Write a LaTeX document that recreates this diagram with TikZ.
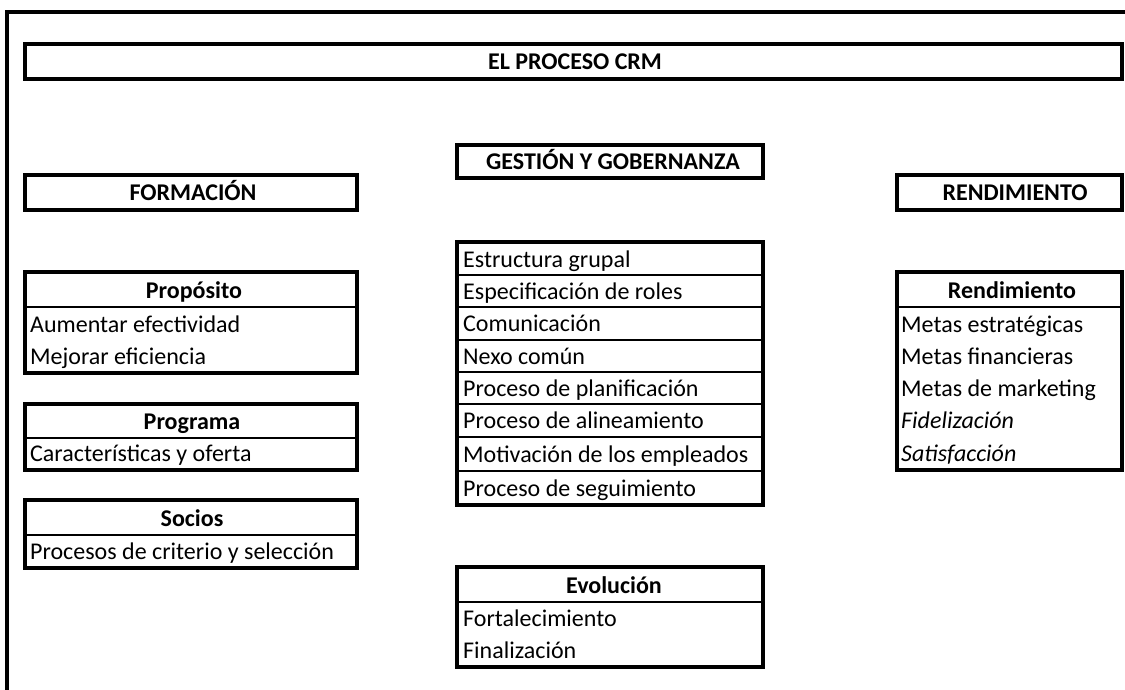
\documentclass[tikz,border=0pt]{standalone}
\usepackage{fontspec}
\setmainfont{Carlito}
\begin{document}
\begin{tikzpicture}[x=1pt,y=-1pt,
  box/.style={line width=3.5pt},
  sepline/.style={line width=1.4pt},
  thicksep/.style={line width=2.8pt},
  txt/.style={anchor=west, inner sep=0pt, yshift=-2.5pt, font=\fontsize{24}{28}\selectfont, text height=16pt, text depth=5pt},
  itxt/.style={txt, font=\fontsize{24}{28}\selectfont\itshape},
  hd/.style={anchor=center, inner sep=0pt, yshift=-2pt, font=\fontsize{24}{28}\selectfont\bfseries, text height=16pt, text depth=5pt},
  bighd/.style={hd}]
\useasboundingbox (0,0) rectangle (1125,690);
\fill[white] (0,0) rectangle (1125,690);
% outer frame
\draw[line width=4pt] (7,700) -- (7,12) -- (1135,12);
% title
\draw[box] (25,44) rectangle (1122,79);
\node[bighd] (crm) at (575,62) {EL PROCESO CRM};
% column headers
\draw[box] (25,175) rectangle (357,210);
\node[bighd] (formacion) at (193,193) {FORMACIÓN};
\draw[box] (457,145) rectangle (763,178);
\node[bighd] (gestion) at (613,162) {GESTIÓN Y GOBERNANZA};
\draw[box] (897,175) rectangle (1122,210);
\node[bighd] (rendT) at (1015,193) {RENDIMIENTO};
% Proposito
\draw[box] (25,272) rectangle (357,373);
\draw[sepline] (25,307) -- (357,307);
\node[hd] (prop) at (194,291) {Propósito};
\node[txt] (prop1) at (30,324) {Aumentar efectividad};
\node[txt] (prop2) at (30,356) {Mejorar eficiencia};
% Programa
\draw[box] (25,404) rectangle (357,470);
\draw[sepline] (25,438) -- (357,438);
\node[hd] (prog) at (192,422) {Programa};
\node[txt] (prog1) at (30,453) {Características y oferta};
% Socios
\draw[box] (25,500) rectangle (357,568);
\draw[sepline] (25,535) -- (357,535);
\node[hd] (soc) at (192,519) {Socios};
\node[txt] (soc1) at (30,551) {Procesos de criterio y selección};
% Gestion list
\draw[box] (457,242) rectangle (763,505);
\foreach \yy in {275,307,340,372,404} \draw[sepline] (457,\yy) -- (763,\yy);
\draw[thicksep] (457,437) -- (763,437);
\draw[thicksep] (457,471) -- (763,471);
\node[txt] (g1) at (463,259) {Estructura grupal};
\node[txt] (g2) at (463,291) {Especificación de roles};
\node[txt] (g3) at (463,323.5) {Comunicación};
\node[txt] (g4) at (463,356) {Nexo común};
\node[txt] (g5) at (463,388) {Proceso de planificación};
\node[txt] (g6) at (463,420.5) {Proceso de alineamiento};
\node[txt] (g7) at (463,454) {Motivación de los empleados};
\node[txt] (g8) at (463,488) {Proceso de seguimiento};
% Evolucion
\draw[box] (457,567) rectangle (763,667);
\draw[sepline] (457,602) -- (763,602);
\node[hd] (evo) at (614,586) {Evolución};
\node[txt] (evo1) at (463,618) {Fortalecimiento};
\node[txt] (evo2) at (463,650) {Finalización};
% Rendimiento
\draw[box] (897,272) rectangle (1122,470);
\draw[sepline] (897,307) -- (1122,307);
\node[hd] (rend) at (1012,291) {Rendimiento};
\node[txt] (r1) at (901,324) {Metas estratégicas};
\node[txt] (r2) at (901,356) {Metas financieras};
\node[txt] (r3) at (901,388) {Metas de marketing};
\node[itxt] (r4) at (901,420) {Fidelización};
\node[itxt] (r5) at (901,453) {Satisfacción};
\end{tikzpicture}
\end{document}
